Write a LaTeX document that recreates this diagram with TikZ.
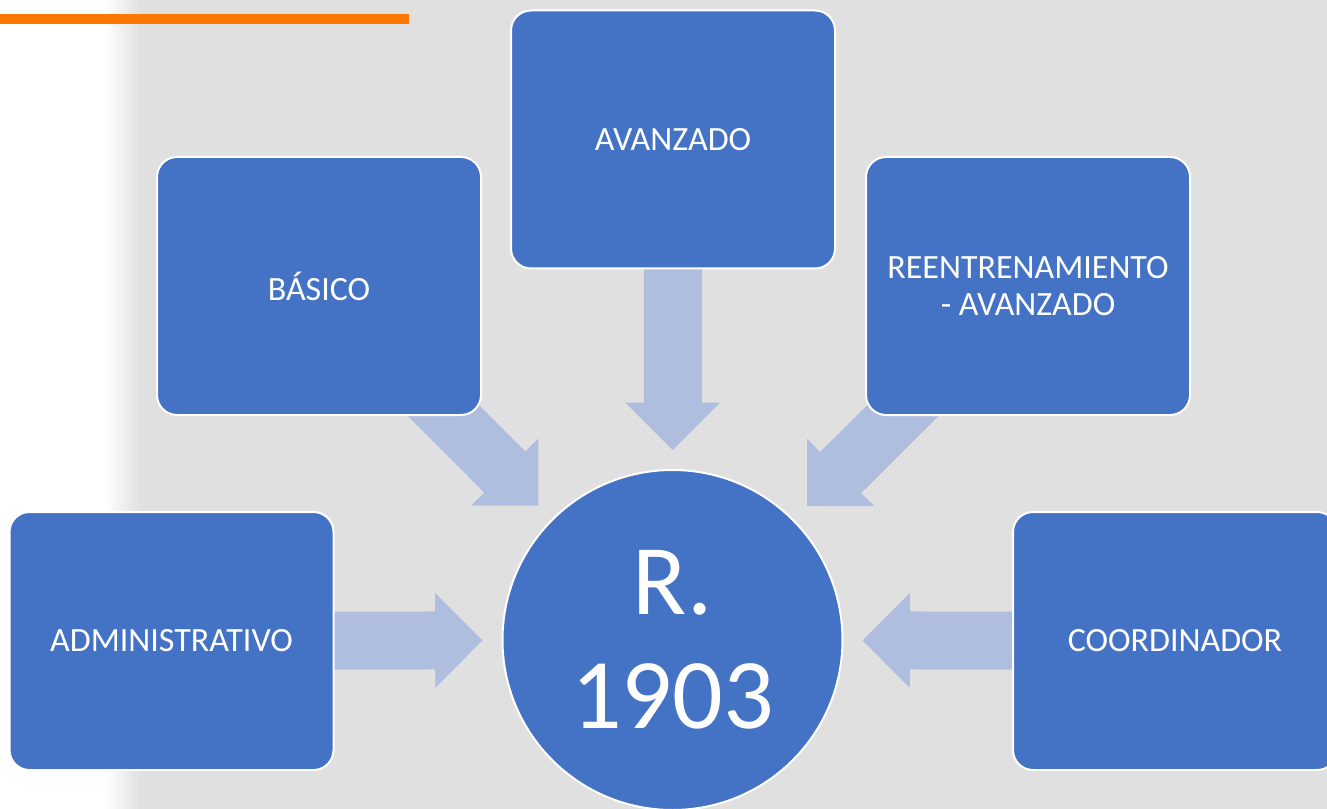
\documentclass[tikz,border=0pt]{standalone}
\usepackage{fontspec}
\setmainfont{Carlito}
\usepackage{xcolor}
\usepackage{tikz}
\usetikzlibrary{arrows.meta}
\definecolor{boxblue}{RGB}{68, 114, 196}
\definecolor{flowblue}{RGB}{175, 189, 223}
\definecolor{stripe}{RGB}{255, 118, 0}
\definecolor{backgray}{RGB}{224, 224, 224}
\pgfdeclarelayer{backdrop}
\pgfdeclarelayer{pipes}
\pgfsetlayers{backdrop,pipes,main}

\begin{document}
\begin{tikzpicture}[x=0.75pt, y=-0.75pt,
            box/.style = {draw=white, line width=1.5pt, fill=boxblue, text=white, rounded corners=15pt,
                          minimum width=243pt, minimum height=193.5pt, inner sep=0pt, align=center,
                          font=\fontsize{25.5}{27.75}\selectfont},
            hub/.style = {circle, draw=white, line width=1.5pt, fill=boxblue, text=white,
                          minimum size=255pt, inner sep=0pt, align=center,
                          font=\fontsize{75}{85.5}\selectfont},
           flow/.style = {draw=flowblue, line width=43.5pt, shorten >=14.25pt,
                          -{Triangle[width=71pt, length=35.5pt, line width=1pt]}}]
        \useasboundingbox (0,0) rectangle (1327,809);
        \begin{pgfonlayer}{backdrop}
            \fill[white] (0,0) rectangle (1327,809);
            \shade[left color=white, right color=backgray] (105,0) rectangle (140,809);
            \fill[backgray] (140,0) rectangle (1327,809);
            \fill[stripe] (0,14) rectangle (409,24);
        \end{pgfonlayer}
        \node[box] (basico)    at (319,286)    {BÁSICO};
        \node[box] (avanzado)  at (673,139.5)  {AVANZADO};
        \node[box] (reentrena) at (1028,286)   {REENTRENAMIENTO\\- AVANZADO};
        \node[box] (admin)     at (171.5,641)  {ADMINISTRATIVO};
        \node[box] (coord)     at (1175,641)   {COORDINADOR};
        \node[hub] (norma)     at (672.5,640)  {R.\\1903};
        \begin{pgfonlayer}{pipes}
            \foreach \src in {basico, avanzado, reentrena, admin, coord}
                \draw[flow] (\src.center) -- (norma);
        \end{pgfonlayer}
\end{tikzpicture}
\end{document}
